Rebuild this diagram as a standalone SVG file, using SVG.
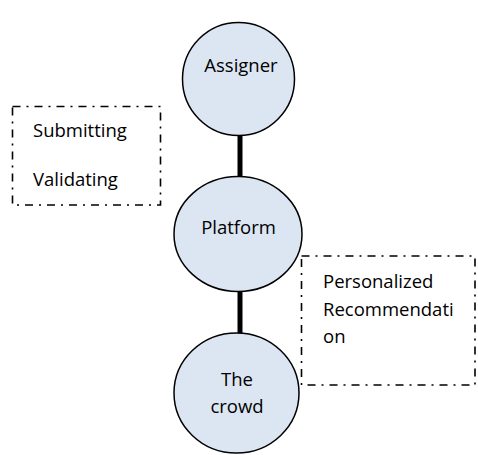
<svg xmlns="http://www.w3.org/2000/svg" width="478" height="455" viewBox="0 0 478 455">
<style>
.node{fill:#dce6f2;stroke:#000;stroke-width:1.5}
.lbl{font-family:"Open Sans","Liberation Sans",sans-serif;font-size:18.5px;fill:#000}
.mid{text-anchor:middle}
.box{fill:none;stroke:#000;stroke-width:1.6;stroke-dasharray:8 6 2 6}
.conn{stroke:#000;stroke-width:5}
</style>
<rect width="478" height="455" fill="#fff"/>
<g id="connectors">
<line class="conn" x1="240" y1="134" x2="240" y2="178"/>
<line class="conn" x1="240" y1="290" x2="240" y2="334"/>
</g>
<g id="assigner">
<ellipse class="node" cx="238.5" cy="79" rx="56" ry="56.5"/>
<text class="lbl mid" x="241" y="72">Assigner</text>
</g>
<g id="platform">
<ellipse class="node" cx="238" cy="234" rx="64" ry="57.5"/>
<text class="lbl mid" x="238.5" y="234">Platform</text>
</g>
<g id="crowd">
<ellipse class="node" cx="236.5" cy="393" rx="62.5" ry="60"/>
<text class="lbl mid" x="237" y="386">The</text>
<text class="lbl mid" x="237" y="413">crowd</text>
</g>
<g id="box-submit">
<rect class="box" x="12.5" y="106.5" width="148" height="98.5"/>
<text class="lbl" x="33" y="137">Submitting</text>
<text class="lbl" x="33" y="186">Validating</text>
</g>
<g id="box-recommend">
<rect class="box" x="301.5" y="256" width="173.5" height="129"/>
<text class="lbl" x="323" y="288">Personalized</text>
<text class="lbl" x="323" y="316">Recommendati</text>
<text class="lbl" x="323" y="343">on</text>
</g>
</svg>
